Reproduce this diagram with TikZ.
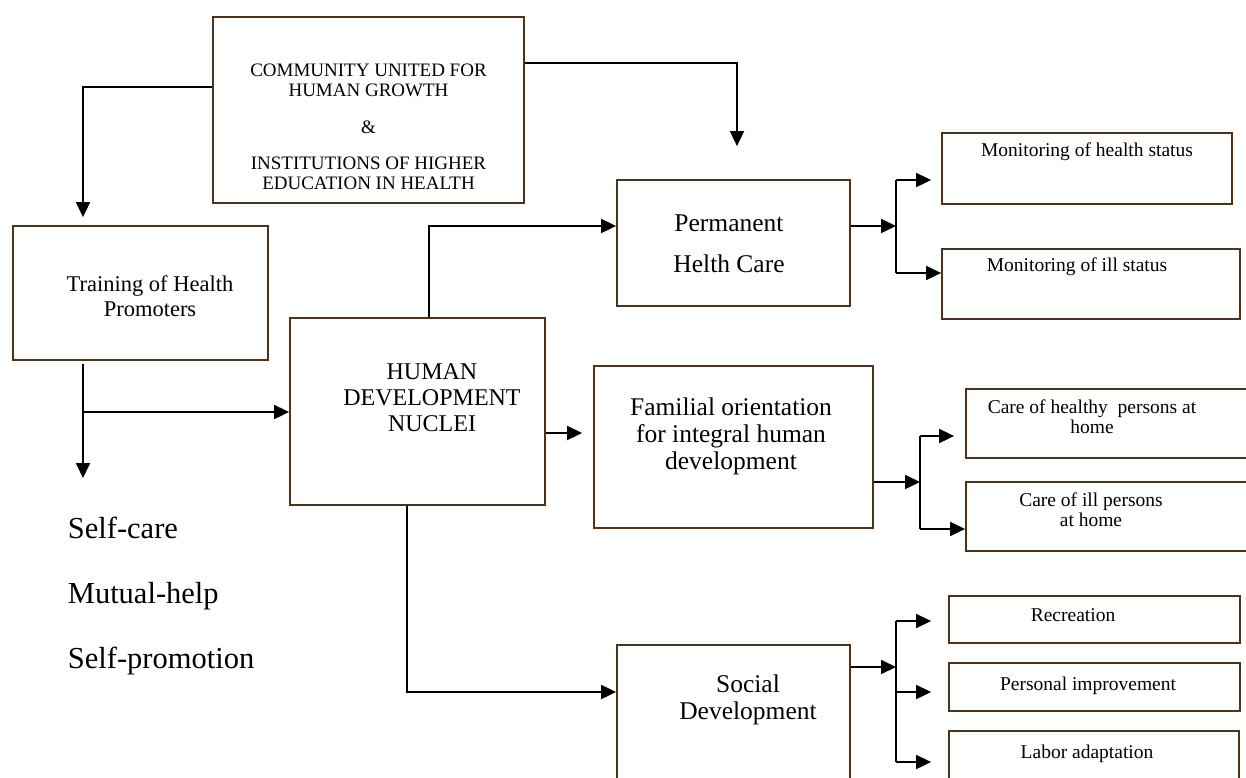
\documentclass[tikz,border=0pt]{standalone}
\usepackage{fontspec}
\setmainfont{Liberation Serif}
\usepackage[dvipsnames]{xcolor}
\usepackage{tikz}
\usetikzlibrary{arrows.meta}
\definecolor{boxbrown}{RGB}{78,50,28}

\begin{document}
\begin{tikzpicture}[x=1pt, y=-1pt, line width=1.8pt, >={Triangle[length=15pt, width=14pt]},
    box/.style={draw=boxbrown, line width=1.8pt, inner sep=0pt},
    txt/.style={align=center, inner sep=0pt},
    big/.style={font=\fontsize{25.5}{27}\selectfont},
    caps/.style={font=\fontsize{24}{26}\selectfont},
    mid/.style={font=\fontsize{22.5}{25}\selectfont},
    small/.style={font=\fontsize{19.5}{20}\selectfont},
    list/.style={anchor=base west, inner sep=0pt, font=\fontsize{30.5}{34}\selectfont}]
    \path[use as bounding box, clip] (0,0) rectangle (1246,777);

    \node[box, minimum width=311, minimum height=186] (comm) at (368.5,110) {};
    \node[txt, small, font=\fontsize{19}{20}\selectfont] (commT) at (368.5,127) {COMMUNITY UNITED FOR\\HUMAN GROWTH\\[17pt]\&\\[16pt]INSTITUTIONS OF HIGHER\\EDUCATION IN HEALTH};
    \node[box, minimum width=255, minimum height=134] (train) at (140.5,293) {};
    \node[txt, mid] (trainT) at (150,296) {Training of Health\\Promoters};
    \node[box, minimum width=255, minimum height=187] (human) at (417.5,411.5) {};
    \node[txt, caps] (humanT) at (432,398) {HUMAN\\DEVELOPMENT\\NUCLEI};

    \node[box, minimum width=233, minimum height=126] (perm) at (733.5,243) {};
    \node[txt, big] (permT) at (729,243.5) {Permanent\\[14pt]Helth Care};
    \node[box, minimum width=279, minimum height=162] (fam) at (733.5,447) {};
    \node[txt, big] (famT) at (731,436) {Familial orientation\\for integral human\\development};
    \node[box, minimum width=233, minimum height=160] (soc) at (733.5,725) {};
    \node[txt, big] (socT) at (748,700) {Social\\Development};

    \node[box, minimum width=290, minimum height=71] (mhs) at (1087,168.5) {};
    \node[txt, small] (mhsT) at (1087,152) {Monitoring of health status};
    \node[box, minimum width=298, minimum height=70] (mis) at (1091,284) {};
    \node[txt, small] (misT) at (1077,267) {Monitoring of ill status};
    \node[box, minimum width=300, minimum height=69] (chh) at (1116,423.5) {};
    \node[txt, small] (chhT) at (1092,417) {Care of healthy\ \ persons at\\home};
    \node[box, minimum width=300, minimum height=69] (cih) at (1116,516.5) {};
    \node[txt, small] (cihT) at (1091,509.5) {Care of ill persons\\at home};
    \node[box, minimum width=291, minimum height=47] (rec) at (1094.5,619.5) {};
    \node[txt, small] (recT) at (1073,615) {Recreation};
    \node[box, minimum width=291, minimum height=48] (pim) at (1094.5,687) {};
    \node[txt, small] (pimT) at (1088,686) {Personal improvement};
    \node[box, minimum width=290, minimum height=70] (lab) at (1094,766) {};
    \node[txt, small] (labT) at (1087,754) {Labor adaptation};

    \node[list] (care) at (67,538) {Self-care};
    \node[list] (mutual) at (67,603) {Mutual-help};
    \node[list] (promo) at (67,668) {Self-promotion};

    \coordinate (down) at (83,478);
    \coordinate (tjoin) at (83,412);

    \draw[->, shorten >=8pt] (comm.west |- 0,87) -| (83,0 |- train.north);
    \draw[->, shorten >=33pt] (comm.east |- 0,63) -| (737,0 |- perm.north);
    \draw[->, shorten <=3pt] (83,0 |- train.south) -- (down);
    \draw[->] (tjoin) -- (human.west |- tjoin);
    \draw[->] (429,0 |- human.north) |- (perm.west |- 0,226);
    \draw[->, shorten >=11pt] (human.east |- 0,433) -- (fam.west |- 0,433);
    \draw[->] (407,0 |- human.south) |- (soc.west |- 0,692);

    \draw[->] (perm.east |- 0,226) -- (896,226);
    \draw (896,180) -- (896,273);
    \draw[->, shorten >=10pt] (896,180) -- (mhs.west |- 0,180);
    \draw[->] (896,273) -- (mis.west |- 0,273);

    \draw[->] (fam.east |- 0,482) -- (920,482);
    \draw (920,436) -- (920,529);
    \draw[->, shorten >=11pt] (920,436) -- (chh.west |- 0,436);
    \draw[->] (920,529) -- (cih.west |- 0,529);

    \draw[->] (soc.east |- 0,667) -- (896,667);
    \draw (896,621) -- (896,762);
    \draw[->, shorten >=17pt] (896,621) -- (rec.west |- 0,621);
    \draw[->, shorten >=17pt] (896,692) -- (pim.west |- 0,692);
    \draw[->, shorten >=17pt] (896,762) -- (lab.west |- 0,762);
\end{tikzpicture}
\end{document}
